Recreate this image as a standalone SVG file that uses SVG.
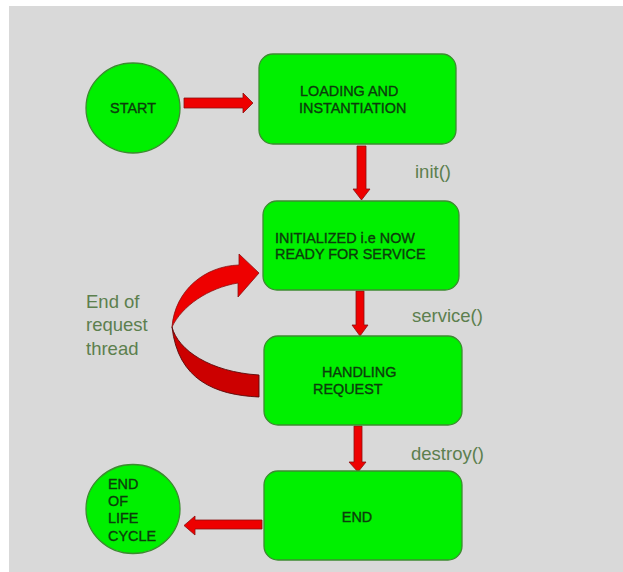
<svg xmlns="http://www.w3.org/2000/svg" width="623" height="572" viewBox="0 0 623 572">
<style>
.node{fill:#00f000;stroke:#3c8c30;stroke-width:1.3}
.t{font-family:"Liberation Sans",Arial,sans-serif;font-size:14.4px;fill:#0c3c0c;stroke:#0c3c0c;stroke-width:0.35}
.lbl{font-family:"Liberation Sans",Arial,sans-serif;font-size:18.5px;fill:#5c7f4e}
.arr{fill:#ee0000;stroke:#8a1010;stroke-width:0.8}
.arr2{fill:#cc0000;stroke:#5a0a0a;stroke-width:0.9}
</style>
<rect x="9" y="6" width="614" height="566" fill="#d9d9d9"/>
<g id="connectors">
  <path class="arr" d="M184,98 L243,98 L243,93 L253,103 L243,113 L243,108 L184,108 Z"/>
  <path class="arr" d="M357,146 L366,146 L366,189 L370,189 L361.5,200 L353,189 L357,189 Z"/>
  <path class="arr" d="M356,291 L364,291 L364,325 L368,325 L360,336 L352,325 L356,325 Z"/>
  <path class="arr" d="M354,426 L362,426 L362,462 L366,462 L358,472 L349,462 L354,462 Z"/>
  <path class="arr" d="M262,520 L195,520 L195,516 L184,525.5 L195,535 L195,529 L262,529 Z"/>
  <path class="arr2" d="M172,327 C178,350 210,372 259,375 L259,397 C215,395 178,380 172,327 Z"/>
  <path class="arr" d="M172,327 C175,290 205,266 239,265 L239,254 L259,273 L238,297 L238,283 C208,288 182,306 172,327 Z"/>
</g>
<g id="start">
  <ellipse class="node" cx="133" cy="108" rx="47" ry="45"/>
  <text class="t" x="133" y="113" text-anchor="middle">START</text>
</g>
<g id="loading">
  <rect class="node" x="259" y="54" width="197" height="90" rx="14"/>
  <text class="t" x="300" y="96">LOADING AND</text>
  <text class="t" x="299" y="113">INSTANTIATION</text>
</g>
<g id="initialized">
  <rect class="node" x="263" y="201" width="196" height="89" rx="14"/>
  <text class="t" x="275" y="243">INITIALIZED i.e NOW</text>
  <text class="t" x="275" y="259">READY FOR SERVICE</text>
</g>
<g id="handling">
  <rect class="node" x="264" y="336" width="198" height="89" rx="14"/>
  <text class="t" x="322" y="377">HANDLING</text>
  <text class="t" x="313" y="394">REQUEST</text>
</g>
<g id="end">
  <rect class="node" x="264" y="471" width="198" height="89" rx="14"/>
  <text class="t" x="357" y="522" text-anchor="middle">END</text>
</g>
<g id="endoflife">
  <ellipse class="node" cx="133" cy="509" rx="47" ry="44.5"/>
  <text class="t" x="108" y="489">END</text>
  <text class="t" x="108" y="506">OF</text>
  <text class="t" x="108" y="523">LIFE</text>
  <text class="t" x="108" y="541">CYCLE</text>
</g>
<g id="labels">
  <text class="lbl" x="415" y="178">init()</text>
  <text class="lbl" x="412" y="322">service()</text>
  <text class="lbl" x="411" y="460">destroy()</text>
  <text class="lbl" x="86" y="308">End of</text>
  <text class="lbl" x="86" y="331">request</text>
  <text class="lbl" x="86" y="355">thread</text>
</g>
</svg>
